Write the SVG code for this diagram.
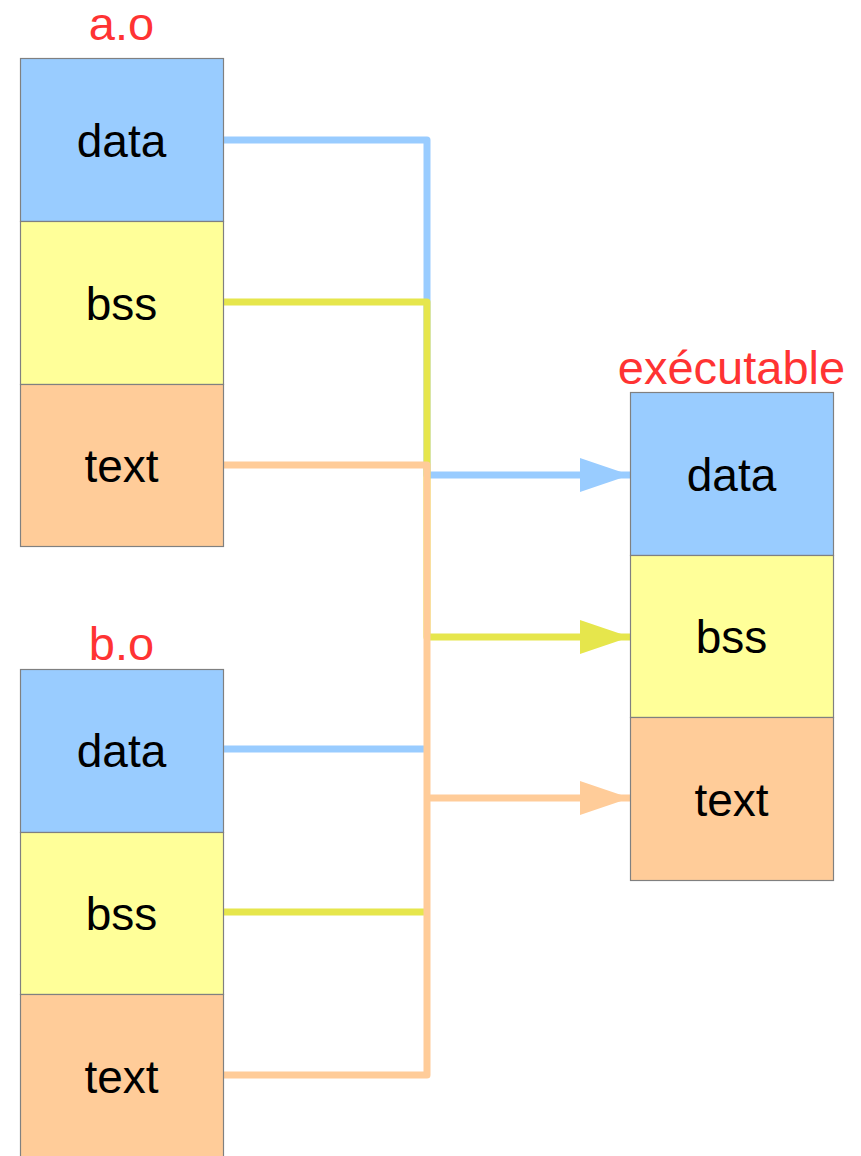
<svg xmlns="http://www.w3.org/2000/svg" width="861" height="1156" viewBox="0 0 861 1156">
<style>
.cell{stroke:#808080;stroke-width:1.2}
.d{fill:#99ccff}.b{fill:#ffff99}.t{fill:#ffcc99}
.lbl{font-family:"Liberation Sans",Arial,sans-serif;font-size:46px;fill:#000;text-anchor:middle}
.ttl{font-family:"Liberation Sans",Arial,sans-serif;font-size:47px;fill:#ff3333;text-anchor:middle}
.ln{fill:none;stroke-width:7;stroke-linejoin:round}
.lb{stroke:#99ccff}.ly{stroke:#e6e64c}.lo{stroke:#ffcc99}
</style>
<defs>
<marker id="ab" markerUnits="userSpaceOnUse" markerWidth="50" markerHeight="34" refX="50" refY="17" orient="auto"><path d="M0,0 L50,17 L0,34 Z" fill="#99ccff"/></marker>
<marker id="ay" markerUnits="userSpaceOnUse" markerWidth="50" markerHeight="34" refX="50" refY="17" orient="auto"><path d="M0,0 L50,17 L0,34 Z" fill="#e6e64c"/></marker>
<marker id="ao" markerUnits="userSpaceOnUse" markerWidth="50" markerHeight="34" refX="50" refY="17" orient="auto"><path d="M0,0 L50,17 L0,34 Z" fill="#ffcc99"/></marker>
</defs>
<g id="connectors">
<polyline class="ln lb" points="223,140 427,140 427,475 630,475" marker-end="url(#ab)"/>
<polyline class="ln ly" points="223,302 427,302 427,637 630,637" marker-end="url(#ay)"/>
<line class="ln lb" x1="223" y1="749" x2="427" y2="749"/>
<line class="ln ly" x1="223" y1="912" x2="427" y2="912"/>
<polyline class="ln lo" points="223,465 427,465 427,1075 223,1075"/>
<line class="ln lo" x1="427" y1="798" x2="630" y2="798" marker-end="url(#ao)"/>
</g>
<g id="a_o">
<text class="ttl" x="121.5" y="40">a.o</text>
<rect class="cell d" x="20.5" y="58.5" width="203" height="163"/>
<rect class="cell b" x="20.5" y="221.5" width="203" height="163"/>
<rect class="cell t" x="20.5" y="384.5" width="203" height="162"/>
<text class="lbl" x="121.5" y="157">data</text>
<text class="lbl" x="121.5" y="320">bss</text>
<text class="lbl" x="121.5" y="482">text</text>
</g>
<g id="b_o">
<text class="ttl" x="121.5" y="660">b.o</text>
<rect class="cell d" x="20.5" y="669.5" width="203" height="163"/>
<rect class="cell b" x="20.5" y="832.5" width="203" height="162"/>
<rect class="cell t" x="20.5" y="994.5" width="203" height="170"/>
<text class="lbl" x="121.5" y="767">data</text>
<text class="lbl" x="121.5" y="930">bss</text>
<text class="lbl" x="121.5" y="1093">text</text>
</g>
<g id="executable">
<text class="ttl" x="731.5" y="384">exécutable</text>
<rect class="cell d" x="630.5" y="392.5" width="203" height="163"/>
<rect class="cell b" x="630.5" y="555.5" width="203" height="162"/>
<rect class="cell t" x="630.5" y="717.5" width="203" height="163"/>
<text class="lbl" x="731.5" y="491">data</text>
<text class="lbl" x="731.5" y="653">bss</text>
<text class="lbl" x="731.5" y="816">text</text>
</g>
</svg>
